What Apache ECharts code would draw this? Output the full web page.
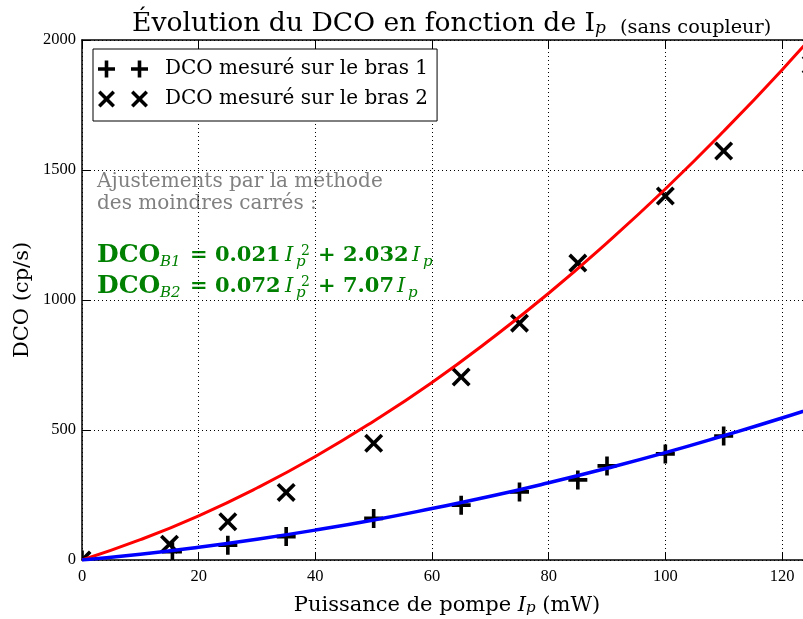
<!DOCTYPE html>
<html><head><meta charset="utf-8">
<script src="https://cdn.jsdelivr.net/npm/echarts/dist/echarts.min.js"></script>
<style>html,body{margin:0;padding:0;background:#fff}#c{width:803px;height:619px}</style>
</head><body><div id="c"></div>
<script>
// ---- data ----
const puissanceB1 = [0, 15.5, 25, 35, 50, 65, 75, 85, 90, 100, 110];
const dcoB1       = [0, 32, 57, 90, 160, 211, 262, 308, 362, 408, 477];
const puissanceB2 = [0, 15, 25, 35, 50, 65, 75, 85, 100, 110, 125];
const dcoB2       = [0, 61, 147, 260, 449, 704, 911, 1142, 1400, 1573, 1905];
// fitted curves
const puissanceAjust = [0, 10, 20, 30, 40, 50, 60, 70, 80, 90, 100, 110, 120, 130];
const ajustB1 = [0, 22, 49, 80, 115, 154, 198, 245, 297, 353, 413, 478, 546, 619];
const ajustB2 = [0, 78, 170, 277, 398, 534, 683, 848, 1026, 1220, 1427, 1649, 1885, 2136];
const nomB1 = 'DCO mesuré sur le bras 1';
const nomB2 = 'DCO mesuré sur le bras 2';

const pair = (xs, ys) => xs.map((x, i) => [x, ys[i]]);

const PLUS = 'M8.1,0 L11.9,0 L11.9,8.1 L20,8.1 L20,11.9 L11.9,11.9 L11.9,20 L8.1,20 L8.1,11.9 L0,11.9 L0,8.1 L8.1,8.1 Z';
const CROSS = 'M2.7,0 L10,7.3 L17.3,0 L20,2.7 L12.7,10 L20,17.3 L17.3,20 L10,12.7 L2.7,20 L0,17.3 L7.3,10 L0,2.7 Z';
const PLUS2 = 'path://M6.7,0 L10.3,0 L10.3,6.7 L17,6.7 L17,10.3 L10.3,10.3 L10.3,17 L6.7,17 L6.7,10.3 L0,10.3 L0,6.7 L6.7,6.7 Z ' +
              'M39.7,0 L43.3,0 L43.3,6.7 L50,6.7 L50,10.3 L43.3,10.3 L43.3,17 L39.7,17 L39.7,10.3 L33,10.3 L33,6.7 L39.7,6.7 Z';
const CROSS2 = 'path://M2.5,0 L8.5,6 L14.5,0 L17,2.5 L11,8.5 L17,14.5 L14.5,17 L8.5,11 L2.5,17 L0,14.5 L6,8.5 L0,2.5 Z ' +
               'M35.5,0 L41.5,6 L47.5,0 L50,2.5 L44,8.5 L50,14.5 L47.5,17 L41.5,11 L35.5,17 L33,14.5 L39,8.5 L33,2.5 Z';

function marker(pathData, size) {
  return function (params, api) {
    const p = api.coord([api.value(0), api.value(1)]);
    return {
      type: 'path',
      shape: { pathData: pathData, layout: 'cover', x: p[0] - size / 2, y: p[1] - size / 2, width: size, height: size },
      style: { fill: '#000' }
    };
  };
}

const SERIF = 'DejaVu Serif';
const GREEN = '#008000';
function t(x, y, text, fs, extra) {
  return {
    type: 'text', x: x, y: y, silent: true,
    style: Object.assign({ text: text, fontFamily: SERIF, fontSize: fs, fill: GREEN,
      align: 'left', verticalAlign: 'middle', textAlign: 'left', textVerticalAlign: 'middle' }, extra || {})
  };
}
const B = { fontWeight: 'bold' };
const IT = { fontStyle: 'italic' };

function equation(base, sub, coefA, coefB, xI2, xP2) {
  return [
    t(97, base - 8, 'DCO', 25, B),
    t(160, base - 1, sub, 15, IT),
    t(190, base - 7, coefA, 21, B),
    t(285, base - 7, 'I', 21, IT),
    t(301, base - 11.5, '2', 14),
    t(296, base - 1, 'p', 15, IT),
    t(318, base - 7, coefB, 21, B),
    t(xI2, base - 7, 'I', 21, IT),
    t(xP2, base - 1, 'p', 15, IT)
  ];
}

const graphics = [
  // title
  { type: 'text', x: 132, y: 21.2, silent: true,
    style: { text: '{t|Évolution du DCO en fonction de I}{s|p}{c|(sans coupleur)}',
      fontFamily: SERIF, fill: '#000', align: 'left', verticalAlign: 'middle',
      rich: {
        t: { fontFamily: SERIF, fontSize: 26.6, lineHeight: 32, fill: '#000', verticalAlign: 'bottom' },
        s: { fontFamily: SERIF, fontSize: 17, fontStyle: 'italic', lineHeight: 16, fill: '#000', verticalAlign: 'bottom' },
        c: { fontFamily: SERIF, fontSize: 19.3, lineHeight: 27.6, fill: '#000', verticalAlign: 'bottom', padding: [0, 0, 0, 14] }
      } } },
  // x axis name
  { type: 'text', x: 447, y: 602, silent: true,
    style: { text: '{n|Puissance de pompe }{i|I}{s|p}{n| (mW)}',
      fontFamily: SERIF, fill: '#000', align: 'center', verticalAlign: 'middle',
      rich: {
        n: { fontFamily: SERIF, fontSize: 21, lineHeight: 28, fill: '#000', verticalAlign: 'bottom' },
        i: { fontFamily: SERIF, fontSize: 21, fontStyle: 'italic', lineHeight: 28, fill: '#000', verticalAlign: 'bottom' },
        s: { fontFamily: SERIF, fontSize: 15, fontStyle: 'italic', lineHeight: 16, fill: '#000', verticalAlign: 'bottom' }
      } } },
  // y axis name
  { type: 'text', x: 23, y: 300, rotation: Math.PI / 2, silent: true,
    style: { text: 'DCO (cp/s)', fontFamily: SERIF, fontSize: 21, fill: '#000',
      align: 'center', verticalAlign: 'middle', textAlign: 'center', textVerticalAlign: 'middle' } },
  // grey annotation
  t(97, 182, 'Ajustements par la méthode', 20, { fill: '#808080' }),
  t(97, 204, 'des moindres carrés :', 20, { fill: '#808080' })
].concat(
  equation(263, 'B1', '= 0.021', '+ 2.032', 412, 423),
  equation(294, 'B2', '= 0.072', '+ 7.07', 397, 408)
);

const chart = echarts.init(document.getElementById('c'), null, { renderer: 'canvas' });
const axisLbl = { color: '#000', fontFamily: 'Liberation Serif', fontSize: 16.5, formatter: v => String(v) };
const dotted = { show: true, lineStyle: { color: '#000', width: 1, type: [1, 3] } };

chart.setOption({
  animation: false,
  backgroundColor: '#fff',
  grid: { left: 82, right: -14, top: 40, bottom: 59, outerBoundsMode: 'none', containLabel: false },
  xAxis: [
    { type: 'value', min: 0, max: 126, interval: 20, position: 'bottom',
      axisLine: { show: true, onZero: false, lineStyle: { color: '#000', width: 1.5 } },
      axisTick: { show: true, inside: true, length: 8, lineStyle: { color: '#000' } },
      axisLabel: Object.assign({ margin: 8, showMaxLabel: false }, axisLbl),
      splitLine: dotted },
    { type: 'value', min: 0, max: 126, interval: 20, position: 'top',
      axisLine: { show: true, onZero: false, lineStyle: { color: '#000', width: 1.5 } },
      axisTick: { show: true, inside: true, length: 8, lineStyle: { color: '#000' } },
      axisLabel: { show: false }, splitLine: { show: false } }
  ],
  yAxis: [
    { type: 'value', min: 0, max: 2000, interval: 500,
      axisLine: { show: true, onZero: false, lineStyle: { color: '#000', width: 1.5 } },
      axisTick: { show: true, inside: true, length: 8, lineStyle: { color: '#000' } },
      axisLabel: Object.assign({ margin: 6 }, axisLbl),
      splitLine: dotted }
  ],
  legend: {
    orient: 'vertical', left: 93, top: 49, padding: [9, 9, 11, 5],
    backgroundColor: '#fff', borderColor: '#000', borderWidth: 1, borderRadius: 0,
    itemWidth: 50, itemHeight: 17, itemGap: 8, selectedMode: false,
    textStyle: { fontFamily: SERIF, fontSize: 20, lineHeight: 22, color: '#000', padding: [0, 0, 0, 12] },
    data: [ { name: nomB1, icon: PLUS2 }, { name: nomB2, icon: CROSS2 } ]
  },
  graphic: graphics,
  series: [
    { name: nomB1, type: 'custom', clip: true, itemStyle: { color: '#000' },
      encode: { x: 0, y: 1 }, data: pair(puissanceB1, dcoB1), renderItem: marker(PLUS, 19) },
    { name: nomB2, type: 'custom', clip: true, itemStyle: { color: '#000' },
      encode: { x: 0, y: 1 }, data: pair(puissanceB2, dcoB2), renderItem: marker(CROSS, 19) },
    { name: 'ajustB2', type: 'line', smooth: true, showSymbol: false, clip: true, silent: true,
      lineStyle: { color: '#ff0000', width: 3 }, data: pair(puissanceAjust, ajustB2) },
    { name: 'ajustB1', type: 'line', smooth: true, showSymbol: false, clip: true, silent: true,
      lineStyle: { color: '#0000ff', width: 3.5 }, data: pair(puissanceAjust, ajustB1) }
  ]
});
</script></body></html>
